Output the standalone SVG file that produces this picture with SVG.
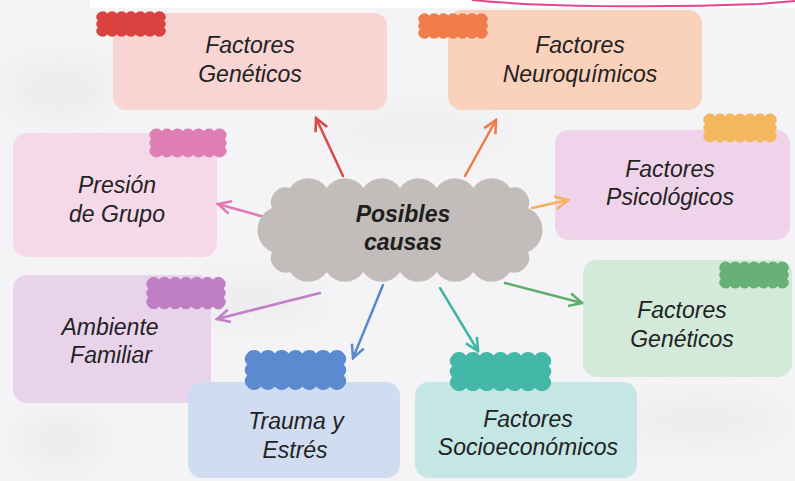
<svg xmlns="http://www.w3.org/2000/svg" xmlns:xlink="http://www.w3.org/1999/xlink" width="795" height="481" viewBox="0 0 795 481">
  <style>
    .box { stroke: none; }
    .lbl { font-family: "Liberation Sans", Arial, sans-serif; font-style: italic; font-size: 23px; fill: #222; text-anchor: middle; }
    .center { font-family: "Liberation Sans", Arial, sans-serif; font-style: italic; font-weight: bold; font-size: 23px; fill: #1e1e1e; text-anchor: middle; }
    .conn { fill: none; stroke-width: 2.5; stroke-linecap: round; }
  </style>
  <defs>
    <symbol id="cloud" viewBox="0 0 100 40" preserveAspectRatio="none">
      <path d="M4,5 a8.5,8.5 0 0 1 13.143,0 a8.5,8.5 0 0 1 13.143,0 a8.5,8.5 0 0 1 13.143,0 a8.5,8.5 0 0 1 13.143,0 a8.5,8.5 0 0 1 13.143,0 a8.5,8.5 0 0 1 13.143,0 a8.5,8.5 0 0 1 13.143,0 a6.5,6.5 0 0 1 0,10 a6.5,6.5 0 0 1 0,10 a6.5,6.5 0 0 1 0,10 a8.5,8.5 0 0 1 -13.143,0 a8.5,8.5 0 0 1 -13.143,0 a8.5,8.5 0 0 1 -13.143,0 a8.5,8.5 0 0 1 -13.143,0 a8.5,8.5 0 0 1 -13.143,0 a8.5,8.5 0 0 1 -13.143,0 a8.5,8.5 0 0 1 -13.143,0 a6.5,6.5 0 0 1 0,-10 a6.5,6.5 0 0 1 0,-10 a6.5,6.5 0 0 1 0,-10 Z"/>
    </symbol>
    <filter id="blur" x="-50%" y="-50%" width="200%" height="200%"><feGaussianBlur stdDeviation="16"/></filter>
    <marker id="mRed" viewBox="0 0 10 10" refX="9" refY="5" markerWidth="16" markerHeight="16" markerUnits="userSpaceOnUse" orient="auto"><path d="M1,1 L9,5 L1,9" fill="none" stroke="#d94a46" stroke-width="1.6"/></marker>
    <marker id="mOrange" viewBox="0 0 10 10" refX="9" refY="5" markerWidth="16" markerHeight="16" markerUnits="userSpaceOnUse" orient="auto"><path d="M1,1 L9,5 L1,9" fill="none" stroke="#f07a45" stroke-width="1.6"/></marker>
    <marker id="mPink" viewBox="0 0 10 10" refX="9" refY="5" markerWidth="16" markerHeight="16" markerUnits="userSpaceOnUse" orient="auto"><path d="M1,1 L9,5 L1,9" fill="none" stroke="#e27ab6" stroke-width="1.6"/></marker>
    <marker id="mYellow" viewBox="0 0 10 10" refX="9" refY="5" markerWidth="16" markerHeight="16" markerUnits="userSpaceOnUse" orient="auto"><path d="M1,1 L9,5 L1,9" fill="none" stroke="#f5b25e" stroke-width="1.6"/></marker>
    <marker id="mPurple" viewBox="0 0 10 10" refX="9" refY="5" markerWidth="16" markerHeight="16" markerUnits="userSpaceOnUse" orient="auto"><path d="M1,1 L9,5 L1,9" fill="none" stroke="#c07fc6" stroke-width="1.6"/></marker>
    <marker id="mBlue" viewBox="0 0 10 10" refX="9" refY="5" markerWidth="16" markerHeight="16" markerUnits="userSpaceOnUse" orient="auto"><path d="M1,1 L9,5 L1,9" fill="none" stroke="#5a88cc" stroke-width="1.6"/></marker>
    <marker id="mTeal" viewBox="0 0 10 10" refX="9" refY="5" markerWidth="16" markerHeight="16" markerUnits="userSpaceOnUse" orient="auto"><path d="M1,1 L9,5 L1,9" fill="none" stroke="#3fb7a6" stroke-width="1.6"/></marker>
    <marker id="mGreen" viewBox="0 0 10 10" refX="9" refY="5" markerWidth="16" markerHeight="16" markerUnits="userSpaceOnUse" orient="auto"><path d="M1,1 L9,5 L1,9" fill="none" stroke="#5fae6c" stroke-width="1.6"/></marker>
  </defs>

  <!-- background -->
  <g id="background">
    <rect x="0" y="0" width="795" height="481" fill="#f4f3f5"/>
    <g filter="url(#blur)" fill="#dcd9de" opacity="0.35">
      <ellipse cx="60" cy="90" rx="50" ry="25"/>
      <ellipse cx="420" cy="130" rx="90" ry="12"/>
      <ellipse cx="250" cy="300" rx="70" ry="18"/>
      <ellipse cx="700" cy="420" rx="80" ry="18"/>
      <ellipse cx="60" cy="440" rx="40" ry="22"/>
    </g>
    <rect x="90" y="0" width="705" height="8" fill="#ffffff"/>
    <path d="M472,0 C540,7 660,8 758,4 L795,1" fill="none" stroke="#e2458e" stroke-width="2"/>
  </g>

  <!-- boxes -->
  <g id="node-geneticos-top">
    <rect class="box" x="113" y="13" width="274" height="97" rx="13" fill="#f8d4d3"/>
    <use href="#cloud" x="95" y="10" width="72" height="28" fill="#d9423e"/>
    <text class="lbl" x="250" y="53">Factores</text>
    <text class="lbl" x="250" y="82">Genéticos</text>
  </g>
  <g id="node-neuroquimicos">
    <rect class="box" x="448" y="10" width="254" height="100" rx="14" fill="#fad1bb"/>
    <use href="#cloud" x="417" y="12" width="72" height="28" fill="#f07c4a"/>
    <text class="lbl" x="580" y="53">Factores</text>
    <text class="lbl" x="580" y="82">Neuroquímicos</text>
  </g>
  <g id="node-psicologicos">
    <rect class="box" x="555" y="130" width="235" height="110" rx="14" fill="#efd3ea"/>
    <use href="#cloud" x="702" y="112" width="76" height="32" fill="#f5b75e"/>
    <text class="lbl" x="670" y="177">Factores</text>
    <text class="lbl" x="670" y="205">Psicológicos</text>
  </g>
  <g id="node-presion">
    <rect class="box" x="13" y="133" width="204" height="124" rx="14" fill="#f6d9e9"/>
    <use href="#cloud" x="148" y="127" width="80" height="32" fill="#df7fb6"/>
    <text class="lbl" x="117" y="193">Presión</text>
    <text class="lbl" x="117" y="222">de Grupo</text>
  </g>
  <g id="node-ambiente">
    <rect class="box" x="13" y="275" width="198" height="128" rx="14" fill="#e9d3ea"/>
    <use href="#cloud" x="145" y="275" width="82" height="36" fill="#bf7fc5"/>
    <text class="lbl" x="110" y="335">Ambiente</text>
    <text class="lbl" x="111" y="363">Familiar</text>
  </g>
  <g id="node-trauma">
    <rect class="box" x="188" y="382" width="212" height="96" rx="14" fill="#cddbf0" opacity="0.95"/>
    <use href="#cloud" x="243" y="348" width="105" height="44" fill="#5b8ad0"/>
    <text class="lbl" x="296" y="429">Trauma y</text>
    <text class="lbl" x="295" y="458">Estrés</text>
  </g>
  <g id="node-socioeconomicos">
    <rect class="box" x="415" y="382" width="222" height="96" rx="14" fill="#c4e6e4"/>
    <use href="#cloud" x="448" y="350" width="105" height="43" fill="#44b8a6"/>
    <text class="lbl" x="528" y="427">Factores</text>
    <text class="lbl" x="528" y="455">Socioeconómicos</text>
  </g>
  <g id="node-geneticos-green">
    <rect class="box" x="583" y="260" width="209" height="117" rx="14" fill="#d3eadb"/>
    <use href="#cloud" x="718" y="260" width="72" height="30" fill="#68b176"/>
    <text class="lbl" x="682" y="318">Factores</text>
    <text class="lbl" x="682" y="347">Genéticos</text>
  </g>

  <!-- connectors -->
  <g id="connectors">
    <path class="conn" d="M343,176 L316,118" stroke="#d94a46" marker-end="url(#mRed)"/>
    <path class="conn" d="M465,176 L496,120" stroke="#f07a45" marker-end="url(#mOrange)"/>
    <path class="conn" d="M268,218 L218,204" stroke="#e27ab6" marker-end="url(#mPink)"/>
    <path class="conn" d="M532,208 L568,200" stroke="#f5b25e" marker-end="url(#mYellow)"/>
    <path class="conn" d="M320,293 L217,319" stroke="#c07fc6" marker-end="url(#mPurple)"/>
    <path class="conn" d="M383,285 L353,358" stroke="#5a88cc" marker-end="url(#mBlue)"/>
    <path class="conn" d="M440,288 L478,351" stroke="#3fb7a6" marker-end="url(#mTeal)"/>
    <path class="conn" d="M505,283 L582,303" stroke="#5fae6c" marker-end="url(#mGreen)"/>
  </g>

  <!-- central node -->
  <g id="node-center">
    <path d="M290,188 a22,22 0 0 1 36.67,0 a22,22 0 0 1 36.67,0 a22,22 0 0 1 36.67,0 a22,22 0 0 1 36.67,0 a22,22 0 0 1 36.67,0 a22,22 0 0 1 36.67,0 a15,15 0 0 1 18,20 a24,24 0 0 1 0,44 a15,15 0 0 1 -18,20 a22,22 0 0 1 -36.67,0 a22,22 0 0 1 -36.67,0 a22,22 0 0 1 -36.67,0 a22,22 0 0 1 -36.67,0 a22,22 0 0 1 -36.67,0 a22,22 0 0 1 -36.67,0 a15,15 0 0 1 -18,-20 a24,24 0 0 1 0,-44 a15,15 0 0 1 18,-20 Z" fill="#c2bdba"/>
    <text class="center" x="403" y="222">Posibles</text>
    <text class="center" x="403" y="250">causas</text>
  </g>
</svg>
